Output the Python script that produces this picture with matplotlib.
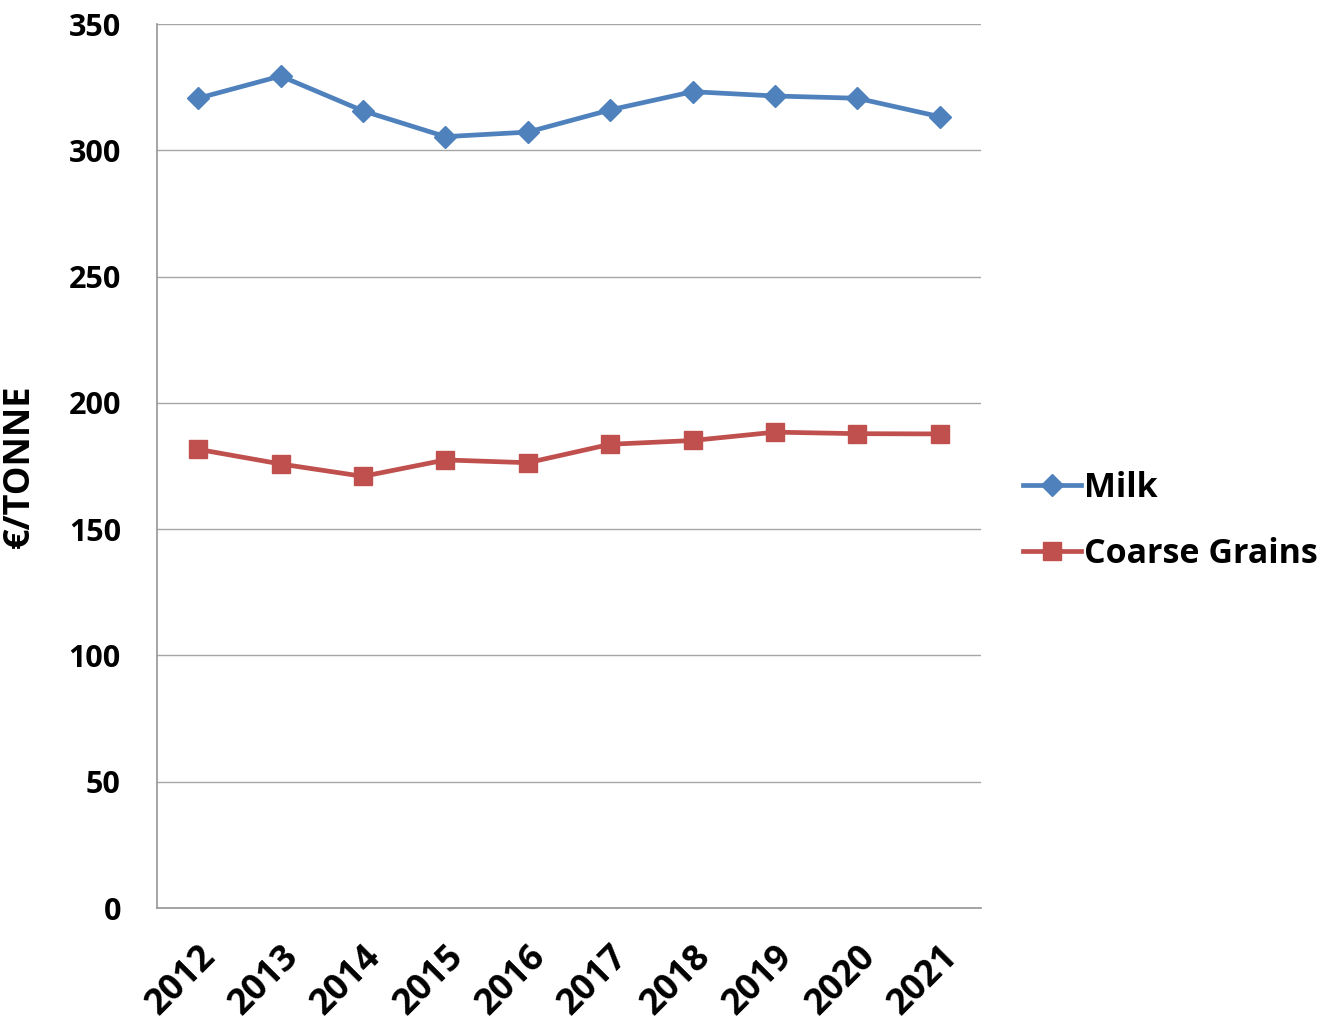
import matplotlib
matplotlib.use("Agg")
import matplotlib.pyplot as plt

years = ["2012", "2013", "2014", "2015", "2016", "2017", "2018", "2019", "2020", "2021"]
milk = [320.6, 329.4, 315.6, 305.4, 307.2, 316.0, 323.2, 321.5, 320.6, 313.3]
coarse_grains = [181.6, 175.8, 170.9, 177.4, 176.3, 183.6, 185.1, 188.4, 187.8, 187.7]
y_ticks = [0, 50, 100, 150, 200, 250, 300, 350]

plt.rcParams["font.family"] = ["Open Sans", "DejaVu Sans"]

fig = plt.figure(figsize=(13.24, 10.30), dpi=100)
ax = fig.add_axes([157 / 1324, 1 - 908 / 1030, (981 - 157) / 1324, (908 - 24) / 1030])

x = list(range(len(years)))
ax.plot(x, milk, color="#4F81BD", lw=3.4, marker="D", markersize=11,
        label="Milk", solid_joinstyle="round")
ax.plot(x, coarse_grains, color="#C0504D", lw=3.4, marker="s", markersize=13,
        label="Coarse Grains", solid_joinstyle="round")

ax.set_xlim(-0.5, len(years) - 0.5)
ax.set_ylim(0, 350)
ax.set_yticks(y_ticks)
ax.set_yticklabels([str(v) for v in y_ticks], fontsize=22, fontweight="bold")
ax.set_xticks(x)
ax.set_xticklabels(years, fontsize=26, fontweight="bold", rotation=45,
                   ha="right", rotation_mode="anchor")
ax.tick_params(axis="y", length=0, pad=26)
ax.tick_params(axis="x", length=0, pad=22)

ax.grid(axis="y", color="#A6A6A6", lw=1)
ax.set_axisbelow(True)
for side in ("top", "right"):
    ax.spines[side].set_visible(False)
for side in ("left", "bottom"):
    ax.spines[side].set_color("#969696")
    ax.spines[side].set_linewidth(1.2)

ax.set_ylabel("€/TONNE", fontsize=26, fontweight="bold")
ax.yaxis.set_label_coords(-0.145, 0.5)

leg = ax.legend(loc="center left", bbox_to_anchor=(1.022, 0.438), frameon=False,
                prop={"size": 24.5, "weight": "bold"}, handlelength=1.7,
                handletextpad=0.1, labelspacing=0.95, markerscale=1.0,
                borderaxespad=0.3)

fig.savefig("out.png", dpi=100)
